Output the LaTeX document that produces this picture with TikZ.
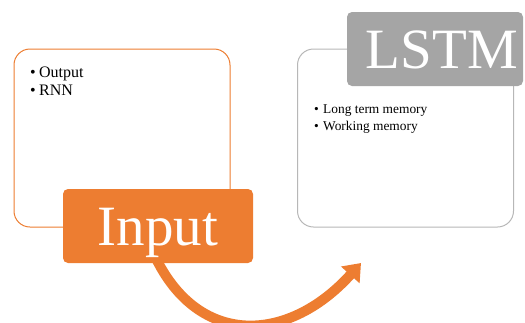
\documentclass[tikz,border=0pt]{standalone}
\usepackage{fontspec}
\setmainfont{Liberation Serif}
\usetikzlibrary{arrows.meta}
\definecolor{accent}{HTML}{ED7D31}
\definecolor{slate}{HTML}{A5A5A5}
\newcommand{\itm}[1]{\makebox[9pt][l]{\textbullet}#1}

\begin{document}
\begin{tikzpicture}[x=1pt,y=-1pt,
  panel/.style={draw,rounded corners=16pt,line width=1pt,fill=white,minimum width=216pt,minimum height=178pt},
  tag/.style={rounded corners=5pt,text=white,font=\fontsize{57}{60}\selectfont,text height=38pt,text depth=0pt,minimum width=#1,minimum height=74pt},
  item/.style={anchor=base west,inner sep=0pt}]
\useasboundingbox (0,0) rectangle (525,322);
% left side
\node[panel,draw=accent] (rnnbox) at (122,138) {};
\node[item,font=\fontsize{16}{18}\selectfont] (out) at (30,77) {\itm{Output}};
\node[item,font=\fontsize{16}{18}\selectfont] (rnn) at (30,95) {\itm{RNN}};
% right side
\node[panel,draw=slate!80] (lstmbox) at (405.5,138) {};
\node[item,font=\fontsize{13.4}{15}\selectfont] (ltm) at (314,113) {\itm{Long term memory}};
\node[item,font=\fontsize{13.4}{15}\selectfont] (wm) at (314,130) {\itm{Working memory}};
\node[tag=176pt,fill=slate] (lstm) at (435,49) {\hspace*{14pt}LSTM};
% arrow
\coordinate (start) at (150,245);
\coordinate (tip) at (361,263);
\draw[accent,line width=10pt,-{Triangle[width=24pt,length=16pt]}] (start) to[out=-68,in=228,looseness=1.35] (tip);
\node[tag=190pt,fill=accent] (input) at (158,226) {Input};
\end{tikzpicture}
\end{document}
